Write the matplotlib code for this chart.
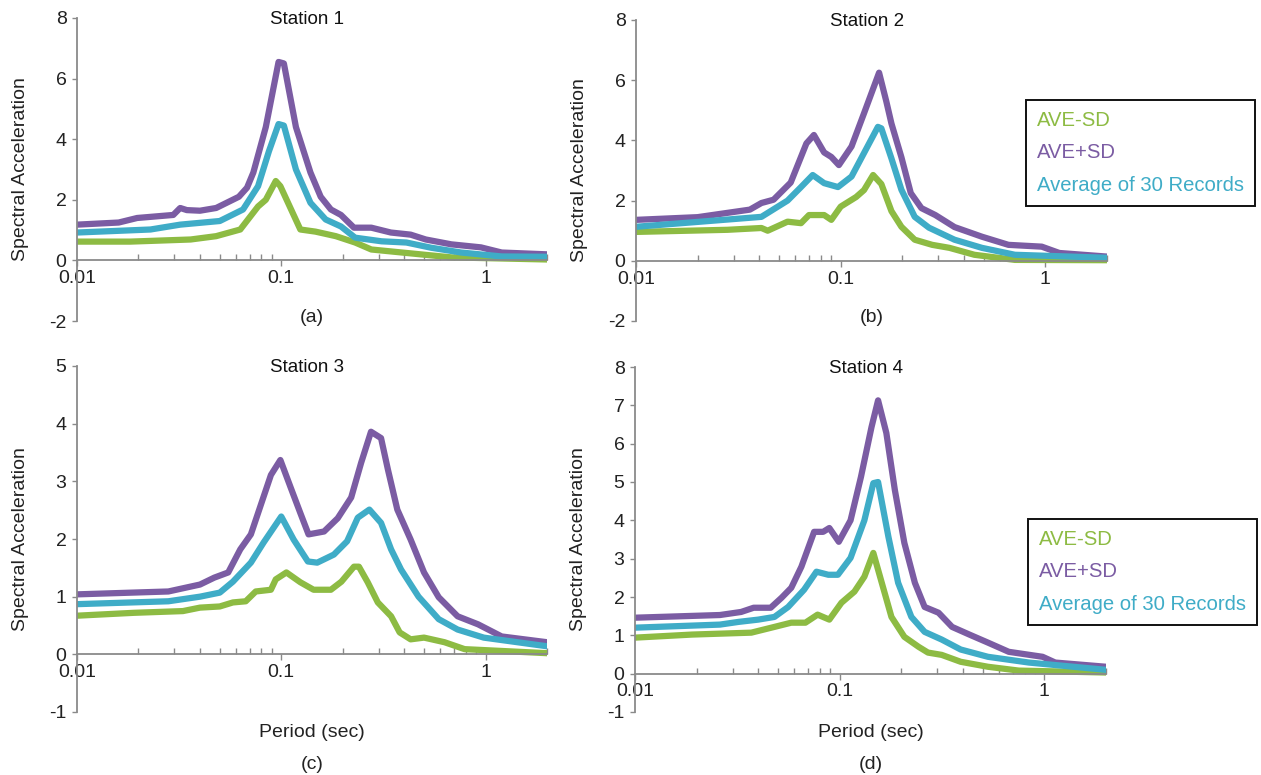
import matplotlib
matplotlib.use('Agg')
import matplotlib.pyplot as plt
from matplotlib.ticker import LogLocator, NullFormatter, FixedLocator, FixedFormatter

plt.rcParams['font.family'] = ['Liberation Sans', 'DejaVu Sans']
plt.rcParams['axes.unicode_minus'] = False

# series colours
c_minus = '#8dbb43'   # AVE-SD
c_plus = '#7b5ca3'    # AVE+SD
c_avg = '#3facc7'     # Average of 30 Records

labels = ['AVE-SD', 'AVE+SD', 'Average of 30 Records']

# ---- Station 1 ----
s1_plus_T = [0.01, 0.016, 0.0197, 0.0296, 0.032, 0.0345, 0.04, 0.048, 0.054, 0.062, 0.068, 0.073, 0.084,
             0.097, 0.103, 0.118, 0.139, 0.156, 0.175, 0.196, 0.227, 0.276, 0.344, 0.43, 0.51, 0.68, 0.95, 1.2, 2.0]
s1_plus = [1.18, 1.25, 1.4, 1.5, 1.73, 1.66, 1.64, 1.73, 1.9, 2.1, 2.4, 2.9, 4.4,
           6.55, 6.5, 4.4, 2.9, 2.1, 1.68, 1.5, 1.08, 1.08, 0.92, 0.85, 0.69, 0.53, 0.43, 0.26, 0.2]
s1_avg_T = [0.01, 0.0229, 0.032, 0.05, 0.065, 0.077, 0.087, 0.097, 0.103, 0.118, 0.139, 0.165, 0.196,
            0.23, 0.31, 0.41, 0.54, 0.76, 1.2, 2.0]
s1_avg = [0.92, 1.02, 1.18, 1.3, 1.68, 2.45, 3.6, 4.5, 4.45, 3.0, 1.9, 1.35, 1.12,
          0.75, 0.63, 0.59, 0.42, 0.26, 0.13, 0.12]
s1_minus_T = [0.01, 0.0182, 0.036, 0.048, 0.063, 0.077, 0.084, 0.094, 0.099, 0.124, 0.147, 0.185, 0.23,
              0.276, 0.39, 0.68, 2.0]
s1_minus = [0.62, 0.62, 0.69, 0.8, 1.02, 1.78, 2.0, 2.62, 2.45, 1.02, 0.95, 0.8, 0.59,
            0.36, 0.26, 0.1, 0.03]

# ---- Station 2 ----
s2_plus_T = [0.01, 0.02, 0.036, 0.041, 0.047, 0.057, 0.068, 0.074, 0.083, 0.09, 0.098, 0.113, 0.13, 0.154,
             0.167, 0.177, 0.198, 0.22, 0.248, 0.29, 0.36, 0.49, 0.66, 0.96, 1.17, 2.0]
s2_plus = [1.36, 1.45, 1.7, 1.92, 2.03, 2.6, 3.9, 4.18, 3.6, 3.45, 3.18, 3.8, 4.9, 6.25,
           5.3, 4.56, 3.44, 2.25, 1.75, 1.52, 1.12, 0.8, 0.53, 0.47, 0.26, 0.14]
s2_avg_T = [0.01, 0.041, 0.055, 0.064, 0.073, 0.083, 0.097, 0.113, 0.13, 0.152, 0.158, 0.177, 0.198,
            0.23, 0.27, 0.36, 0.49, 0.71, 2.0]
s2_avg = [1.13, 1.46, 2.0, 2.45, 2.85, 2.58, 2.45, 2.8, 3.58, 4.45, 4.4, 3.4, 2.36,
          1.46, 1.1, 0.7, 0.43, 0.2, 0.1]
s2_minus_T = [0.01, 0.028, 0.041, 0.044, 0.055, 0.064, 0.07, 0.083, 0.09, 0.1, 0.119, 0.13, 0.144, 0.158,
              0.177, 0.198, 0.23, 0.28, 0.34, 0.45, 0.71, 2.0]
s2_minus = [0.96, 1.03, 1.09, 1.0, 1.3, 1.25, 1.52, 1.52, 1.36, 1.8, 2.12, 2.35, 2.85, 2.55,
            1.65, 1.13, 0.7, 0.53, 0.43, 0.2, 0.03, 0.02]

# ---- Station 3 ----
s3_plus_T = [0.01, 0.028, 0.04, 0.047, 0.055, 0.063, 0.071, 0.077, 0.089, 0.099, 0.111, 0.124, 0.136, 0.162,
             0.189, 0.22, 0.246, 0.275, 0.308, 0.333, 0.37, 0.43, 0.5, 0.59, 0.73, 0.92, 1.2, 2.0]
s3_plus = [1.04, 1.09, 1.21, 1.33, 1.42, 1.82, 2.08, 2.45, 3.11, 3.37, 2.9, 2.45, 2.08, 2.13,
           2.36, 2.72, 3.32, 3.86, 3.75, 3.2, 2.51, 1.99, 1.42, 0.99, 0.66, 0.52, 0.31, 0.21]
s3_avg_T = [0.01, 0.028, 0.04, 0.05, 0.058, 0.071, 0.082, 0.1, 0.115, 0.135, 0.15, 0.181, 0.21, 0.237,
            0.27, 0.308, 0.345, 0.386, 0.47, 0.59, 0.73, 0.98, 2.0]
s3_avg = [0.87, 0.92, 1.0, 1.07, 1.26, 1.59, 1.94, 2.39, 1.99, 1.61, 1.59, 1.73, 1.96, 2.37,
          2.51, 2.28, 1.82, 1.47, 1.0, 0.61, 0.43, 0.29, 0.14]
s3_minus_T = [0.01, 0.019, 0.033, 0.04, 0.05, 0.058, 0.067, 0.075, 0.089, 0.094, 0.106, 0.124, 0.144, 0.175,
              0.197, 0.227, 0.24, 0.265, 0.297, 0.345, 0.38, 0.43, 0.5, 0.63, 0.79, 2.0]
s3_minus = [0.67, 0.72, 0.75, 0.81, 0.83, 0.9, 0.92, 1.09, 1.12, 1.3, 1.42, 1.25, 1.12, 1.12,
            1.26, 1.52, 1.52, 1.25, 0.9, 0.66, 0.38, 0.26, 0.29, 0.21, 0.09, 0.02]

# ---- Station 4 ----
s4_plus_T = [0.01, 0.026, 0.033, 0.038, 0.046, 0.052, 0.058, 0.065, 0.075, 0.083, 0.089, 0.099, 0.113, 0.127,
             0.143, 0.154, 0.169, 0.186, 0.207, 0.233, 0.26, 0.304, 0.354, 0.43, 0.53, 0.67, 0.98, 1.13, 2.0]
s4_plus = [1.46, 1.53, 1.61, 1.72, 1.72, 1.98, 2.24, 2.79, 3.7, 3.7, 3.8, 3.44, 4.0, 5.13,
           6.43, 7.13, 6.28, 4.79, 3.41, 2.37, 1.74, 1.59, 1.22, 1.02, 0.81, 0.57, 0.44, 0.29, 0.18]
s4_avg_T = [0.01, 0.026, 0.032, 0.04, 0.048, 0.056, 0.067, 0.077, 0.088, 0.098, 0.113, 0.132, 0.146, 0.154,
            0.173, 0.193, 0.224, 0.26, 0.315, 0.39, 0.53, 0.84, 2.0]
s4_avg = [1.2, 1.28, 1.35, 1.41, 1.48, 1.74, 2.19, 2.66, 2.58, 2.58, 3.02, 4.0, 4.97, 5.0,
          3.57, 2.37, 1.48, 1.09, 0.89, 0.63, 0.44, 0.29, 0.1]
s4_minus_T = [0.01, 0.019, 0.037, 0.048, 0.058, 0.068, 0.078, 0.089, 0.102, 0.118, 0.132, 0.146, 0.159, 0.179,
              0.207, 0.243, 0.27, 0.315, 0.39, 0.53, 0.75, 2.0]
s4_minus = [0.94, 1.02, 1.07, 1.22, 1.33, 1.33, 1.54, 1.41, 1.85, 2.14, 2.53, 3.15, 2.45, 1.48,
            0.96, 0.7, 0.55, 0.49, 0.31, 0.18, 0.08, 0.03]

W, H = 1261, 775
fig = plt.figure(figsize=(W / 100, H / 100), dpi=100)


def px_axes(left, top, right, bottom):
    # axes box given in pixel coordinates of the figure
    return fig.add_axes([left / W, 1 - bottom / H, (right - left) / W, (bottom - top) / H])


def draw_panel(ax, title, letter, ylim, ystep, plus, avg, minus, bottom_row=False):
    ax.plot(plus[0], plus[1], color=c_plus, lw=4.5, solid_joinstyle='round')
    ax.plot(minus[0], minus[1], color=c_minus, lw=4.5, solid_joinstyle='round')
    ax.plot(avg[0], avg[1], color=c_avg, lw=4.5, solid_joinstyle='round')
    ax.set_xscale('log')
    ax.set_xlim(0.01, 2.0)
    ax.set_ylim(*ylim)
    ax.set_yticks(range(ylim[0], ylim[1] + 1, ystep))
    ax.xaxis.set_major_locator(FixedLocator([0.01, 0.1, 1]))
    ax.xaxis.set_major_formatter(FixedFormatter(['0.01', '0.1', '1']))
    ax.xaxis.set_minor_locator(LogLocator(base=10, subs=range(2, 10)))
    ax.xaxis.set_minor_formatter(NullFormatter())

    for s in ['top', 'right']:
        ax.spines[s].set_visible(False)
    ax.spines['bottom'].set_position(('data', 0))
    for s in ['left', 'bottom']:
        ax.spines[s].set_color('#8a8a8a')
        ax.spines[s].set_linewidth(1.3)
    ax.patch.set_alpha(0)

    ax.tick_params(axis='y', direction='out', length=3.5, width=1, color='#8a8a8a',
                   labelsize=14, pad=4, labelcolor='#222222')
    ax.tick_params(axis='x', which='major', direction='out', length=4, width=1, color='#8a8a8a',
                   labelsize=14, pad=3, labelcolor='#222222')
    ax.tick_params(axis='x', which='minor', direction='in', length=4, width=1, color='#8a8a8a')
    for lab in ax.get_xticklabels():
        lab.set_x(lab.get_position()[0])

    ax.set_ylabel('Spectral Acceleration', fontsize=14, color='#222222')
    ax.yaxis.set_label_coords(-0.102, 0.5)
    ax.text(0.49, 0.995, title, transform=ax.transAxes, ha='center', va='center', fontsize=13.5,
            color='#111111')
    if bottom_row:
        ax.text(0.5, -0.06, 'Period (sec)', transform=ax.transAxes, ha='center', va='center',
                fontsize=14, color='#222222')
        ax.text(0.5, -0.153, letter, transform=ax.transAxes, ha='center', va='center',
                fontsize=14, color='#222222')
    else:
        ax.text(0.5, 0.01, letter, transform=ax.transAxes, ha='center', va='center',
                fontsize=14, color='#222222')


def add_legend(ax, left, top):
    handles = [plt.Line2D([], [], color=c, lw=0) for c in (c_minus, c_plus, c_avg)]
    leg = ax.legend(handles, labels, loc='upper left', bbox_to_anchor=(left / W, 1 - top / H),
                    bbox_transform=fig.transFigure, handlelength=0, handletextpad=0,
                    fontsize=14.6, frameon=True, fancybox=False, framealpha=1,
                    edgecolor='#111111', borderpad=0.55, labelspacing=0.65, borderaxespad=0)
    leg.get_frame().set_linewidth(1.4)
    for t, c in zip(leg.get_texts(), (c_minus, c_plus, c_avg)):
        t.set_color(c)


ax1 = px_axes(77, 18, 547, 321)
ax2 = px_axes(636, 20, 1107, 321)
ax3 = px_axes(77, 366, 547, 712)
ax4 = px_axes(635, 367, 1106, 712)

draw_panel(ax1, 'Station 1', '(a)', (-2, 8), 2, (s1_plus_T, s1_plus), (s1_avg_T, s1_avg), (s1_minus_T, s1_minus))
draw_panel(ax2, 'Station 2', '(b)', (-2, 8), 2, (s2_plus_T, s2_plus), (s2_avg_T, s2_avg), (s2_minus_T, s2_minus))
draw_panel(ax3, 'Station 3', '(c)', (-1, 5), 1, (s3_plus_T, s3_plus), (s3_avg_T, s3_avg), (s3_minus_T, s3_minus),
           bottom_row=True)
draw_panel(ax4, 'Station 4', '(d)', (-1, 8), 1, (s4_plus_T, s4_plus), (s4_avg_T, s4_avg), (s4_minus_T, s4_minus),
           bottom_row=True)

add_legend(ax2, 1026, 100)
add_legend(ax4, 1028, 519)

fig.savefig('out.png', dpi=100)
